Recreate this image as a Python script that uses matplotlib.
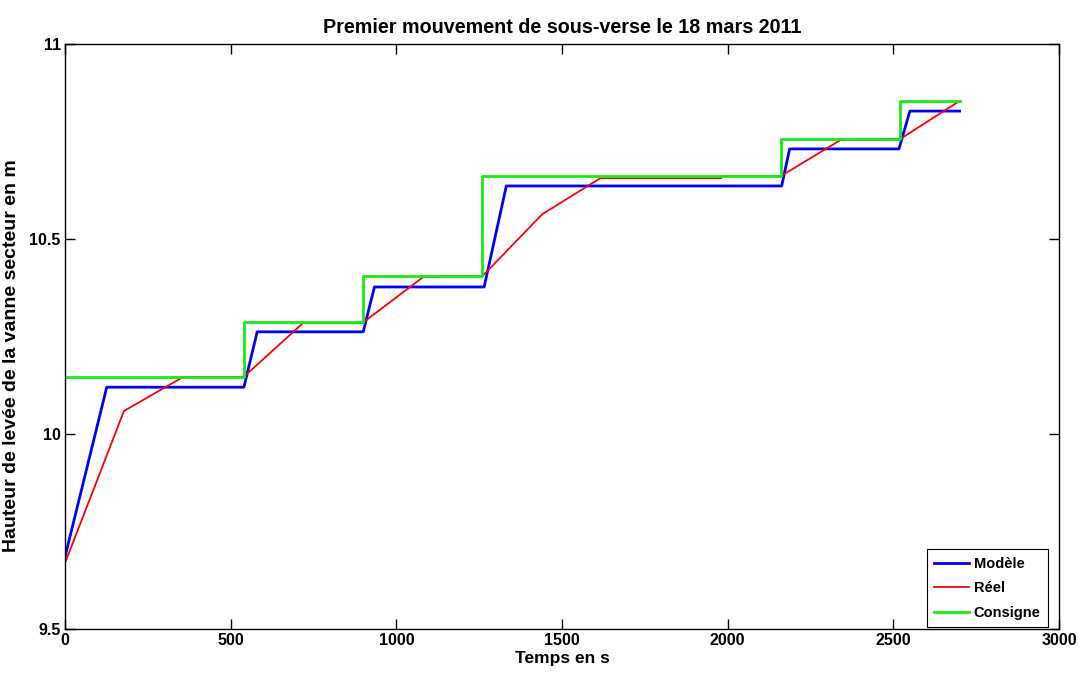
import matplotlib
matplotlib.use("Agg")
import matplotlib.pyplot as plt

# Modèle (blue)
modele_t = [0, 126, 540, 580, 900, 934, 1265, 1332, 2163, 2187, 2517, 2550, 2700]
modele_h = [9.685, 10.12, 10.12, 10.262, 10.262, 10.377, 10.377, 10.636, 10.636, 10.731, 10.731, 10.828, 10.828]

# Réel (red)
reel_t = [0, 178, 356, 540, 544, 719, 900, 906, 1082, 1260, 1441, 1616, 1980, 1985, 2160, 2341, 2520, 2700]
reel_h = [9.669, 10.059, 10.146, 10.146, 10.15, 10.285, 10.285, 10.29, 10.403, 10.405, 10.564, 10.656, 10.656, 10.661, 10.661, 10.754, 10.756, 10.854]

# Consigne (green)
consigne_t = [0, 540, 540, 900, 900, 1260, 1260, 2160, 2160, 2520, 2520, 2700]
consigne_h = [10.146, 10.146, 10.286, 10.286, 10.406, 10.406, 10.661, 10.661, 10.756, 10.756, 10.855, 10.855]

xticks = [0, 500, 1000, 1500, 2000, 2500, 3000]
yticks = [9.5, 10, 10.5, 11]
ytick_labels = ["9.5", "10", "10.5", "11"]

plt.rcParams['font.family'] = ['Liberation Sans', 'DejaVu Sans']

fig = plt.figure(figsize=(10.79, 6.77), dpi=100)
ax = fig.add_axes([65/1079, 1-629/677, (1059-65)/1079, (629-44)/677])

ax.plot(modele_t, modele_h, color='#0000ff', lw=2.0, label='Modèle')
ax.plot(reel_t, reel_h, color='#ff0000', lw=1.3, label='Réel')
ax.plot(consigne_t, consigne_h, color='#11ee11', lw=2.0, label='Consigne')

ax.set_xlim(0, 3000)
ax.set_ylim(9.5, 11)
ax.set_xticks(xticks)
ax.set_xticklabels([str(v) for v in xticks])
ax.set_yticks(yticks)
ax.set_yticklabels(ytick_labels)
ax.tick_params(direction='in', top=True, right=True, length=7, width=1, labelsize=11.5, pad=3)
for lab in ax.get_xticklabels() + ax.get_yticklabels():
    lab.set_fontweight('bold')
for s in ax.spines.values():
    s.set_linewidth(1)

ax.set_title('Premier mouvement de sous-verse le 18 mars 2011', fontsize=14.2, fontweight='bold', pad=8)
ax.set_xlabel('Temps en s', fontsize=12.5, fontweight='bold', labelpad=2)
ax.set_ylabel('Hauteur de levée de la vanne secteur en m', fontsize=14, fontweight='bold')
ax.yaxis.set_label_coords(-(65-20)/994, (629-356)/585)

leg = ax.legend(loc='lower right', bbox_to_anchor=(1048/1079, 1-627/677),
                bbox_transform=fig.transFigure, borderaxespad=0,
                prop={'size': 10.5, 'weight': 'bold'}, fancybox=False, edgecolor='black',
                framealpha=1, handlelength=2.4, handletextpad=0.3,
                labelspacing=0.72, borderpad=0.5)
leg.get_frame().set_linewidth(0.8)

fig.savefig('out.png', dpi=100)
